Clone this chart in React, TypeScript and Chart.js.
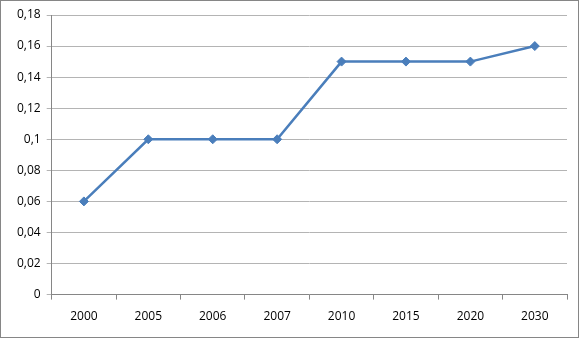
import React, { useEffect, useRef } from "react";
import { Chart, registerables } from "chart.js";

Chart.register(...registerables);

const categories = ["2000", "2005", "2006", "2007", "2010", "2015", "2020", "2030"];
const values = [0.06, 0.1, 0.1, 0.1, 0.15, 0.15, 0.15, 0.16];
const yMin = 0;
const yMax = 0.18;
const yStep = 0.02;

const borderPlugin = {
  id: "outerBorder",
  afterDraw(chart: any) {
    const ctx = chart.ctx;
    ctx.save();
    ctx.strokeStyle = "#868686";
    ctx.lineWidth = 1;
    ctx.strokeRect(0.5, 0.5, chart.width - 2, chart.height - 1);
    ctx.restore();
  },
};

export default function App() {
  const ref = useRef<HTMLCanvasElement | null>(null);
  useEffect(() => {
    document.body.style.margin = "0";
    const canvas = ref.current;
    if (!canvas) return;
    const chart = new Chart(canvas, {
      type: "line",
      data: {
        labels: categories,
        datasets: [
          {
            data: values,
            borderColor: "#4A7EBB",
            backgroundColor: "#4A7EBB",
            borderWidth: 2.5,
            pointStyle: "rectRot",
            pointRadius: 4.5,
            pointBorderWidth: 1,
            tension: 0,
          },
        ],
      },
      options: {
        responsive: false,
        animation: false,
        devicePixelRatio: 1,
        layout: { padding: { left: 11, top: 15, right: 13, bottom: 4 } },
        plugins: { legend: { display: false }, tooltip: { enabled: false } },
        scales: {
          x: {
            type: "category",
            offset: true,
            grid: {
              offset: true,
              drawOnChartArea: false,
              drawTicks: true,
              tickLength: 5,
              color: "#868686",
            },
            border: { color: "#868686", width: 1 },
            ticks: {
              color: "#000",
              padding: 10,
              font: { family: "'Open Sans', 'Liberation Sans', sans-serif", size: 12 },
            },
          },
          y: {
            min: yMin,
            max: yMax,
            grid: {
              color: "#b4b4b4",
              tickLength: 5,
              drawTicks: true,
            },
            border: { color: "#868686", width: 1 },
            ticks: {
              stepSize: yStep,
              color: "#000",
              padding: 6,
              font: { family: "'Open Sans', 'Liberation Sans', sans-serif", size: 12 },
              callback: (v: any) => {
                const n = Math.round(Number(v) * 100) / 100;
                return n === 0 ? "0" : String(n).replace(".", ",");
              },
            },
          },
        },
      },
      plugins: [borderPlugin],
    });
    return () => chart.destroy();
  }, []);
  return <canvas ref={ref} width={580} height={338} style={{ display: "block" }} />;
}
